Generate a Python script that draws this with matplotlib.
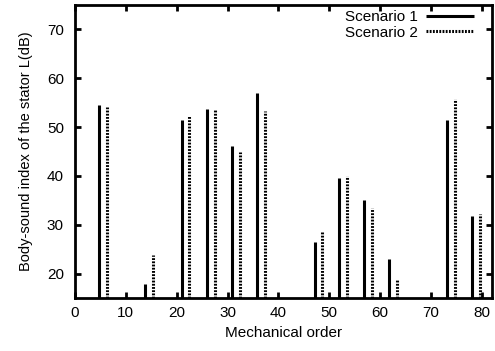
import matplotlib.pyplot as plt

plt.rcParams['font.family'] = ['Liberation Sans', 'DejaVu Sans']

# mechanical orders and levels in dB
orders = [4.8, 13.8, 21.0, 26.0, 30.9, 35.8, 47.1, 52.0, 56.9, 61.8, 73.2, 78.1]
scenario1 = [54.5, 17.9, 51.4, 53.7, 46.1, 57.0, 26.5, 39.6, 35.1, 22.9, 51.5, 31.7]
scenario2 = [54.1, 23.8, 52.3, 53.8, 44.9, 53.2, 28.6, 40.0, 33.5, 18.9, 55.8, 32.3]
offset = 1.5
base = 15

fig = plt.figure(figsize=(4.95, 3.51), dpi=100)
ax = fig.add_axes([0.1515, 0.151, 0.8424, 0.8348])

ax.vlines(orders, base, scenario1, colors='black', linewidth=2.2,
          label='Scenario 1')
ax.vlines([o + offset for o in orders], base, scenario2, colors='black',
          linewidth=2.2, linestyles=(0, (0.6, 0.45)), label='Scenario 2')

ax.set_xlim(0, 82)
ax.set_ylim(15, 75)
ax.set_xticks(range(0, 81, 10))
ax.set_yticks(range(20, 71, 10))
ax.tick_params(direction='in', length=4, width=2, top=True, right=True,
               labelsize=11)
ax.tick_params(axis='y', pad=8)
ax.tick_params(axis='x', pad=6)
for s in ax.spines.values():
    s.set_linewidth(2)

ax.set_xlabel('Mechanical order', fontsize=11)
ax.set_ylabel('Body-sound index of the stator L(dB)', fontsize=10.5,
              labelpad=10)

ax.legend(loc='upper right', bbox_to_anchor=(0.958, 0.982), frameon=False,
          markerfirst=False, fontsize=11, handlelength=3.2, borderpad=0,
          borderaxespad=0, labelspacing=0.1, handletextpad=0.5)

fig.savefig('out.png')
